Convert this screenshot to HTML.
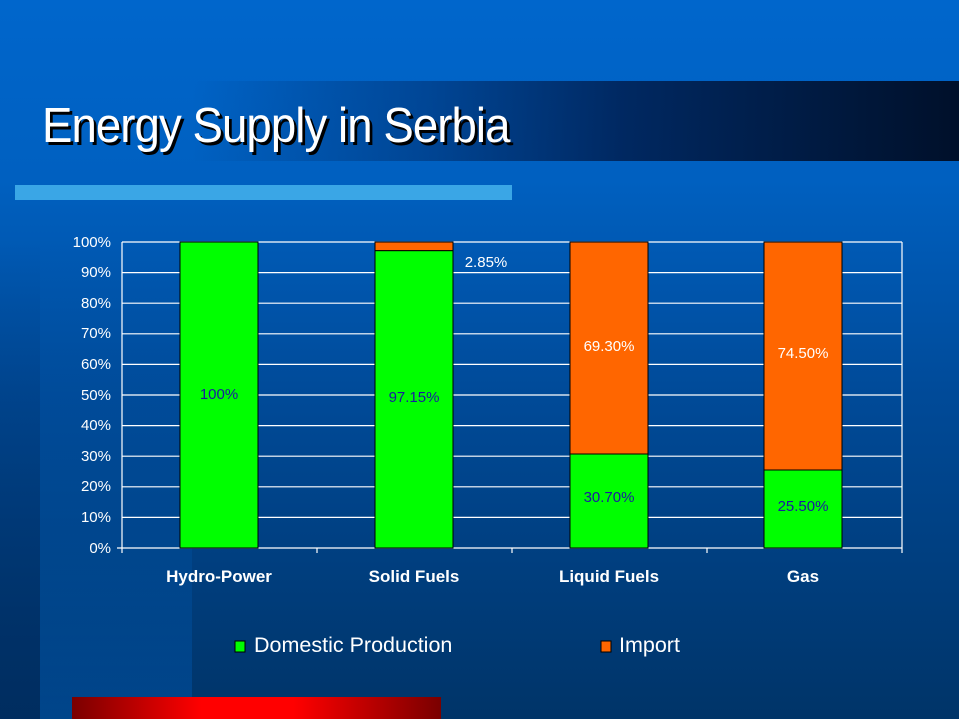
<!DOCTYPE html>
<html><head><style>
body{margin:0}
#s{position:relative;width:959px;height:719px;overflow:hidden;background:linear-gradient(#0066cc 0%,#0060c0 25%,#004a98 55%,#003468 100%);font-family:"Liberation Sans",sans-serif}
</style></head><body><div id="s">
<div style="position:absolute;left:40px;top:240px;width:152px;height:479px;background:linear-gradient(rgba(0,80,160,0) ,rgba(0,80,160,0.6))"></div>
<div style="position:absolute;left:0;top:240px;width:40px;height:479px;background:linear-gradient(rgba(0,40,90,0),rgba(0,40,90,0.6))"></div>
<div style="position:absolute;left:0;top:81px;width:959px;height:80px;background:linear-gradient(90deg,rgba(0,0,0,0) 0%,rgba(0,0,0,0) 20%,rgba(0,40,100,0.5) 45%,rgba(0,30,80,0.85) 65%,#00102a 100%)"></div>
<div style="position:absolute;left:42px;top:98px;font-size:49px;color:#fff;text-shadow:3px 3px 0 #000;letter-spacing:-1px;transform:scaleX(0.93);transform-origin:left">Energy Supply in Serbia</div>
<div style="position:absolute;left:15px;top:185px;width:497px;height:15px;background:#3aa6e6"></div>
<div style="position:absolute;left:72px;top:697px;width:369px;height:22px;background:linear-gradient(90deg,#7a0000,#ff0000 35%,#ff0000 60%,#7a0000)"></div>
<svg width="959" height="719" style="position:absolute;left:0;top:0" font-family="Liberation Sans,sans-serif">
<g stroke="#fff" stroke-width="1.2">
<line x1="122" y1="242" x2="902" y2="242"/><line x1="122" y1="272.6" x2="902" y2="272.6"/><line x1="122" y1="303.2" x2="902" y2="303.2"/><line x1="122" y1="333.8" x2="902" y2="333.8"/><line x1="122" y1="364.4" x2="902" y2="364.4"/><line x1="122" y1="395" x2="902" y2="395"/><line x1="122" y1="425.6" x2="902" y2="425.6"/><line x1="122" y1="456.2" x2="902" y2="456.2"/><line x1="122" y1="486.8" x2="902" y2="486.8"/><line x1="122" y1="517.4" x2="902" y2="517.4"/>
<line x1="122" y1="242" x2="122" y2="553"/><line x1="902" y1="242" x2="902" y2="548"/>
<line x1="117" y1="548" x2="902" y2="548"/>
<line x1="317" y1="548" x2="317" y2="553"/><line x1="512" y1="548" x2="512" y2="553"/><line x1="707" y1="548" x2="707" y2="553"/><line x1="902" y1="548" x2="902" y2="553"/>
</g>
<g stroke="#000" stroke-width="1">
<rect x="180" y="242" width="78" height="306" fill="#00ff00"/>
<rect x="375" y="242" width="78" height="8.7" fill="#ff6600"/>
<rect x="375" y="250.7" width="78" height="297.3" fill="#00ff00"/>
<rect x="570" y="242" width="78" height="212" fill="#ff6600"/>
<rect x="570" y="454" width="78" height="94" fill="#00ff00"/>
<rect x="764" y="242" width="78" height="228" fill="#ff6600"/>
<rect x="764" y="470" width="78" height="78" fill="#00ff00"/>
</g>
<g font-size="15" fill="#fff" text-anchor="end">
<text x="111" y="247">100%</text><text x="111" y="277">90%</text><text x="111" y="308">80%</text><text x="111" y="338">70%</text><text x="111" y="369">60%</text><text x="111" y="400">50%</text><text x="111" y="430">40%</text><text x="111" y="461">30%</text><text x="111" y="491">20%</text><text x="111" y="522">10%</text><text x="111" y="553">0%</text>
</g>
<g font-size="15" text-anchor="middle" fill="#1a1aa0">
<text x="219" y="399">100%</text><text x="414" y="402">97.15%</text><text x="609" y="502">30.70%</text><text x="803" y="511">25.50%</text>
</g>
<g font-size="15" text-anchor="middle" fill="#fff">
<text x="486" y="267">2.85%</text><text x="609" y="351">69.30%</text><text x="803" y="358">74.50%</text>
</g>
<g font-size="17" font-weight="bold" text-anchor="middle" fill="#fff">
<text x="219" y="582">Hydro-Power</text><text x="414" y="582">Solid Fuels</text><text x="609" y="582">Liquid Fuels</text><text x="803" y="582">Gas</text>
</g>
<rect x="235" y="641" width="10" height="11" fill="#00ff00" stroke="#000"/>
<rect x="601" y="641" width="10" height="11" fill="#ff6600" stroke="#000"/>
<g font-size="21.5" fill="#fff"><text x="254" y="652">Domestic Production</text><text x="619" y="652">Import</text></g>
</svg>
</div></body></html>
